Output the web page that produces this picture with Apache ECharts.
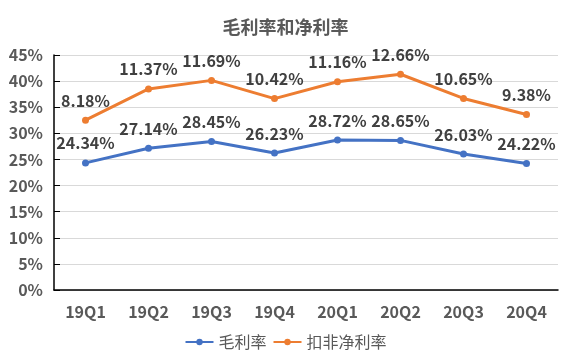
<!DOCTYPE html>
<html><head><meta charset="utf-8">
<script src="https://cdn.jsdelivr.net/npm/echarts@6/dist/echarts.min.js"></script>
<style>html,body{margin:0;padding:0;background:#fff}#c{width:571px;height:360px}</style>
</head><body><div id="c"></div>
<script>
var categories = ['19Q1','19Q2','19Q3','19Q4','20Q1','20Q2','20Q3','20Q4'];
var grossMargin = [24.34, 27.14, 28.45, 26.23, 28.72, 28.65, 26.03, 24.22];
var netMargin = [8.18, 11.37, 11.69, 10.42, 11.16, 12.66, 10.65, 9.38];
var seriesNames = ['毛利率', '扣非净利率'];
var FONT = '"Noto Sans CJK SC", "Microsoft YaHei", sans-serif';
var chart = echarts.init(document.getElementById('c'));
function lbl() {
  return {show: true, position: 'top', distance: 8, formatter: function(p){return p.value.toFixed(2) + '%';},
    color: '#404040', fontSize: 16, fontWeight: 'bold', fontFamily: FONT};
}
chart.setOption({
  animation: false,
  title: {text: '毛利率和净利率', left: 'center', top: 13,
    textStyle: {color: '#595959', fontSize: 18, fontWeight: 'bold', fontFamily: FONT}},
  legend: {bottom: 5, left: 'center', itemWidth: 28, itemHeight: 8, itemGap: 6,
    textStyle: {color: '#595959', fontSize: 16, fontFamily: FONT},
    data: seriesNames},
  grid: {left: 54, right: 13, top: 55, bottom: 70},
  xAxis: {type: 'category', data: categories,
    axisLine: {lineStyle: {color: '#000', width: 1.5}},
    axisTick: {inside: true, length: 6, lineStyle: {color: '#000'}},
    axisLabel: {color: '#595959', fontSize: 16, fontWeight: 'bold', fontFamily: FONT, margin: 14}},
  yAxis: {type: 'value', min: 0, max: 45, interval: 5,
    axisLine: {show: true, lineStyle: {color: '#000', width: 1.5}},
    axisTick: {show: true, inside: true, length: 6, lineStyle: {color: '#000'}},
    splitLine: {lineStyle: {color: '#d9d9d9'}},
    axisLabel: {color: '#595959', fontSize: 16, fontWeight: 'bold', fontFamily: FONT, margin: 11, formatter: '{value}%'}},
  series: [
    {name: seriesNames[0], type: 'line', stack: 'm', data: grossMargin, symbol: 'circle', symbolSize: 7,
      itemStyle: {color: '#4472C4'}, lineStyle: {width: 3, color: '#4472C4'}, label: lbl()},
    {name: seriesNames[1], type: 'line', stack: 'm', data: netMargin, symbol: 'circle', symbolSize: 7,
      itemStyle: {color: '#ED7D31'}, lineStyle: {width: 3, color: '#ED7D31'}, label: lbl()}
  ]
});
</script></body></html>
